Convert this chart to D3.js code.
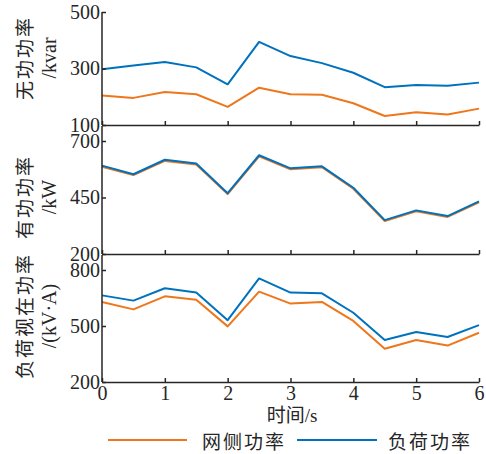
<!DOCTYPE html>
<html>
<head>
<meta charset="utf-8">
<script src="https://cdn.jsdelivr.net/npm/d3@7"></script>
<style>
  html, body { margin: 0; padding: 0; background: #fff; }
  svg { display: block; }
  text { fill: #262626; }
</style>
</head>
<body>
<svg id="chart" width="486" height="454"></svg>
<script>
// ---- data ----
const times = [0, 0.5, 1, 1.5, 2, 2.5, 3, 3.5, 4, 4.5, 5, 5.5, 6];
const seriesNames = ["网侧功率", "负荷功率"];
const reactiveGrid = [204, 196, 217, 209, 164, 232, 209, 207, 177, 132, 145, 137, 158];
const reactiveLoad = [297, 311, 323, 304, 244, 394, 344, 319, 285, 234, 242, 239, 250];
const activeGrid = [586, 549, 612, 596, 465, 632, 575, 584, 489, 346, 389, 364, 429];
const activeLoad = [591, 553, 617, 600, 469, 637, 579, 588, 493, 350, 393, 368, 433];
const apparentGrid = [629, 589, 659, 641, 498, 684, 620, 629, 527, 378, 425, 395, 464];
const apparentLoad = [664, 636, 702, 679, 531, 755, 679, 675, 571, 425, 468, 441, 505];
const xTicks = [0, 1, 2, 3, 4, 5, 6];
const reactiveTicks = [100, 300, 500];
const activeTicks = [200, 450, 700];
const apparentTicks = [200, 500, 800];

const colors = ["#EE771C", "#0072BD"];
const axisColor = "#262626";

const svg = d3.select("#chart");
const x = d3.scaleLinear().domain([0, 6]).range([102, 479]);

const panels = [
  { grid: reactiveGrid, load: reactiveLoad, ticks: reactiveTicks, domain: [100, 500], range: [125, 12], top: 12,
    label1: "无功功率", label2: "/kvar", cy: 58 },
  { grid: activeGrid, load: activeLoad, ticks: activeTicks, domain: [200, 700], range: [254, 141], top: 126,
    label1: "有功功率", label2: "/kW", cy: 197 },
  { grid: apparentGrid, load: apparentLoad, ticks: apparentTicks, domain: [200, 800], range: [382, 270], top: 255,
    label1: "负荷视在功率", label2: "/(kV·A)", cy: 316 }
];

const serif = "'Liberation Serif', 'Times New Roman', 'Noto Sans CJK SC', serif";
const cjk = "'Noto Sans CJK SC', sans-serif";

panels.forEach((p, i) => {
  const y = d3.scaleLinear().domain(p.domain).range(p.range);
  const bottom = p.range[0];
  const g = svg.append("g");

  // data lines
  const line = d3.line().x((d, j) => x(times[j])).y(d => y(d));
  [p.grid, p.load].forEach((s, k) => {
    g.append("path").datum(s)
      .attr("fill", "none").attr("stroke", colors[k])
      .attr("stroke-width", 2).attr("stroke-linejoin", "round")
      .attr("d", line);
  });

  // y axis
  const ya = g.append("g").attr("transform", `translate(${x(0)},0)`)
    .call(d3.axisLeft(y).tickValues(p.ticks).tickSize(-4).tickPadding(2).tickSizeOuter(0));
  ya.select(".domain").remove();
  ya.selectAll("line").attr("stroke", axisColor).attr("stroke-width", 1.5);
  ya.selectAll("text").attr("font-family", serif).attr("font-size", 20).attr("fill", axisColor);
  g.append("line").attr("x1", x(0)).attr("x2", x(0)).attr("y1", p.top).attr("y2", bottom)
    .attr("stroke", axisColor).attr("stroke-width", 1.5);

  // x axis
  const xa = g.append("g").attr("transform", `translate(0,${bottom})`)
    .call(d3.axisBottom(x).tickValues(xTicks).tickSize(-4).tickSizeOuter(0).tickPadding(4)
      .tickFormat(i === 2 ? d3.format("d") : () => ""));
  xa.select(".domain").attr("stroke", axisColor).attr("stroke-width", 1.5);
  xa.selectAll("line").attr("stroke", axisColor).attr("stroke-width", 1.5);
  xa.selectAll("text").attr("font-family", serif).attr("font-size", 20).attr("fill", axisColor);

  // y labels
  g.append("text").attr("transform", `translate(23,${p.cy}) rotate(-90)`)
    .attr("text-anchor", "middle").attr("dominant-baseline", "central")
    .attr("font-family", cjk).attr("font-size", 19).attr("letter-spacing", 2)
    .text(p.label1);
  g.append("text").attr("transform", `translate(49,${p.cy}) rotate(-90)`)
    .attr("text-anchor", "middle").attr("dominant-baseline", "central")
    .attr("font-family", serif).attr("font-size", 20)
    .text(p.label2);
});

// x label
svg.append("text").attr("x", 292).attr("y", 415)
  .attr("text-anchor", "middle").attr("dominant-baseline", "central")
  .attr("font-family", serif).attr("font-size", 19)
  .text("时间/s");

// legend
const legend = [
  { x1: 108, x2: 187, tx: 202 },
  { x1: 297, x2: 377, tx: 388 }
];
legend.forEach((l, k) => {
  svg.append("line").attr("x1", l.x1).attr("x2", l.x2).attr("y1", 440).attr("y2", 440)
    .attr("stroke", colors[k]).attr("stroke-width", 2);
  svg.append("text").attr("x", l.tx).attr("y", 440)
    .attr("dominant-baseline", "central")
    .attr("font-family", cjk).attr("font-size", 19).attr("letter-spacing", 2)
    .text(seriesNames[k]);
});
</script>
</body>
</html>
